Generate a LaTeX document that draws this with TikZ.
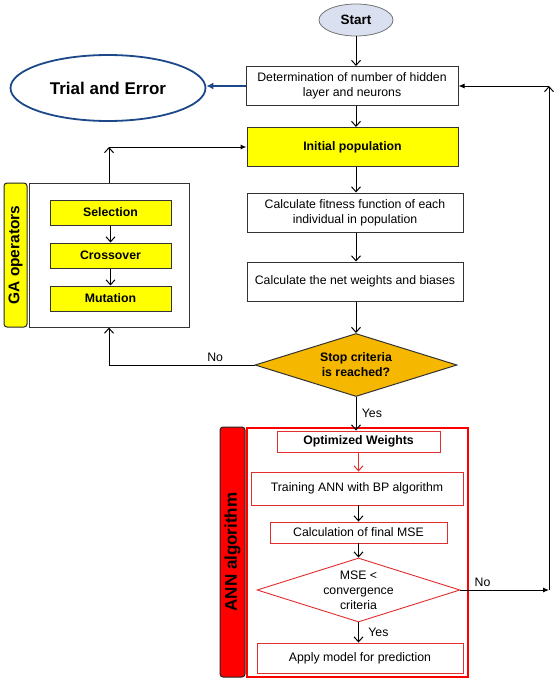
\documentclass[tikz,border=0pt]{standalone}
\usepackage{fontspec}
\setmainfont{Liberation Sans}
\usetikzlibrary{shapes.geometric,arrows.meta}

\definecolor{gayellow}{RGB}{255,255,0}
\definecolor{stopgold}{RGB}{245,183,0}
\definecolor{startblue}{RGB}{218,224,239}
\definecolor{trialblue}{RGB}{28,72,138}
\definecolor{annred}{RGB}{255,0,0}
\definecolor{linered}{RGB}{225,45,45}

\tikzset{
  txt/.style={font=\fontsize{12.3}{15}\selectfont},
  btxt/.style={font=\bfseries\fontsize{12.3}{15}\selectfont},
  box/.style={draw=black!80, line width=1pt, fill=white, align=center, inner sep=0pt, txt},
  ybox/.style={box, fill=gayellow, btxt},
  rbox/.style={box, draw=linered, line width=0.9pt},
  sidebar/.style={draw=black!85, line width=1pt, rounded corners=3pt, rotate=90, inner sep=0pt},
  arr/.style={-{Straight Barb[length=5pt,width=9pt]}, line width=1pt},
  farr/.style={-{Latex[length=6pt,width=5pt]}, line width=1pt},
}

\begin{document}
\begin{tikzpicture}[x=1pt,y=-1pt]
\useasboundingbox (0,0) rectangle (556,680);

% main column
\node[ellipse, draw=black!55, fill=startblue, line width=0.8pt, minimum width=74, minimum height=32, inner sep=0pt, font=\bfseries\fontsize{13.5}{16}\selectfont] (start) at (356,20) {Start};
\node[box, minimum width=212, minimum height=39] (det) at (352,86) {Determination of number of hidden\\layer and neurons};
\node[ellipse, draw=trialblue, line width=1.8pt, fill=white, minimum width=195, minimum height=66, inner sep=0pt, font=\bfseries\fontsize{17}{20}\selectfont] (trial) at (108,88) {Trial and Error};
\node[ybox, minimum width=211, minimum height=39] (init) at (352.5,147) {Initial population};
\node[box, minimum width=216, minimum height=39] (fit) at (355,212.5) {Calculate fitness function of each\\individual in population};
\node[box, minimum width=216, minimum height=39] (netw) at (355,281.5) {Calculate the net weights and biases};
\node[diamond, draw=black!80, line width=1pt, fill=stopgold, minimum width=202, minimum height=63, inner sep=0pt, aspect=3.2, align=center, btxt] (stop) at (356,365) {Stop criteria\\is reached?};

% GA operators
\node[box, minimum width=160, minimum height=144] (ga) at (109,255) {};
\node[sidebar, fill=gayellow, minimum width=144, minimum height=23, font=\bfseries\fontsize{15.5}{18}\selectfont] (galab) at (15.5,255) {GA operators};
\node[ybox, minimum width=121, minimum height=25] (sel) at (110.5,212.5) {Selection};
\node[ybox, minimum width=121, minimum height=25] (cross) at (110.5,255.5) {Crossover};
\node[ybox, minimum width=121, minimum height=25] (mut) at (110.5,298.5) {Mutation};

% ANN algorithm
\node[draw=annred, line width=2.4pt, minimum width=221, minimum height=249, inner sep=0pt] (annbox) at (357.5,552.5) {};
\node[sidebar, fill=annred, minimum width=250, minimum height=25, font=\bfseries\fontsize{17}{20}\selectfont] (annlab) at (232.5,552) {ANN algorithm};
\node[rbox, btxt, minimum width=163, minimum height=21] (opt) at (358.5,441.5) {Optimized Weights};
\node[rbox, minimum width=212, minimum height=33] (train) at (357,488.5) {Training ANN with BP algorithm};
\node[rbox, minimum width=177, minimum height=21] (mse) at (358.5,532.5) {Calculation of final MSE};
\node[diamond, draw=linered, line width=0.9pt, fill=white, minimum width=203, minimum height=64, inner sep=-3pt, aspect=3.2, align=center, txt] (conv) at (358.5,590) {MSE <\\convergence\\criteria};
\node[rbox, minimum width=206, minimum height=30] (apply) at (360,658) {Apply model for prediction};

\coordinate (gaturn) at (ga.north |- init.west);
\coordinate (rturn) at (549,590);
\coordinate (rtop) at (rturn |- det.east);

\draw[arr] (start.south) -- (start.south |- det.north);
\draw[-{Latex[length=7pt,width=7pt]}, draw=trialblue, line width=2.2pt] (det.west) -- (det.west -| trial.east);
\draw[arr] (det.south -| start) -- (init.north -| start);
\draw[arr] (init.south -| start) -- (fit.north -| start);
\draw[arr] (fit.south -| start) -- (netw.north -| start);
\draw[arr] (netw.south -| start) -- (stop.north);
\draw[arr] (stop.south) -- node[right, xshift=2pt, txt]{Yes} (stop.south |- opt.north);
\draw[arr] (stop.west) -- node[above, pos=0.27, txt]{No} (stop.west -| ga.south) -- (ga.south);
\draw[arr] (ga.north) -- (gaturn);
\draw[farr] (gaturn) -- (init.west);
\draw[arr] (sel) -- (cross);
\draw[arr] (cross) -- (mut);

\draw[arr, draw=linered] (opt.south) -- (opt.south |- train.north);
\draw[arr] (train.south -| mse) -- (mse.north);
\draw[arr] (mse.south) -- (conv.north);
\draw[arr] (conv.south) -- node[right, xshift=6pt, txt]{Yes} (conv.south |- apply.north);
\draw[farr] (conv.east) -- node[above, pos=0.25, txt]{No} (rturn);
\draw[arr] (rturn) -- (rtop);
\draw[farr] (rtop) -- (det.east);

\end{tikzpicture}
\end{document}
